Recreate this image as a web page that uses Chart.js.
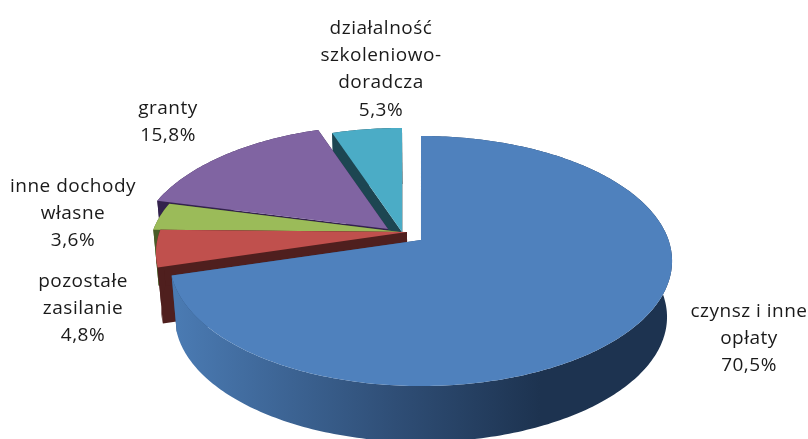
<!DOCTYPE html>
<html><head><meta charset="utf-8">
<style>html,body{margin:0;padding:0;background:#fff}canvas{display:block}</style>
<script src="https://cdn.jsdelivr.net/npm/chart.js@4/dist/chart.umd.min.js"></script>
</head><body><canvas id="c" width="808" height="439"></canvas>
<script>
const categories = ["czynsz i inne opłaty","pozostałe zasilanie","inne dochody własne","granty","działalność szkoleniowo-doradcza"];
const labelLines = [["czynsz i inne","opłaty"],["pozostałe","zasilanie"],["inne dochody","własne"],["granty"],["działalność","szkoleniowo-","doradcza"]];
const shares = [70.5,4.8,3.6,15.8,5.3];
const faceColors = ["#4f81bd","#c0504d","#9bbb59","#8064a2","#4bacc6"];
const wallColors = ["#2f4e76","#4f1f1e","#4a5c27","#33224d","#1d4652"];

const pie3d = {
  id:"pie3d",
  beforeDatasetsDraw(chart,args,o){
    const ctx=chart.ctx, arcs=chart.getDatasetMeta(0).data;
    const point=(i,th,r)=>{
      const u=r*Math.cos(th), v=-r*Math.sin(th), w=1+o.persp*v;
      return [o.tips[i][0]+o.A*u/w, o.tips[i][1]-o.B*v/w];
    };
    const low=p=>[o.baseX+(p[0]-o.baseX)*o.shrink, p[1]+o.depth];
    const poly=(pts,fill)=>{
      ctx.beginPath(); pts.forEach((p,k)=>k?ctx.lineTo(p[0],p[1]):ctx.moveTo(p[0],p[1]));
      ctx.closePath(); ctx.fillStyle=fill; ctx.fill();
    };
    const grad=ctx.createLinearGradient(o.gradFrom,0,o.gradTo,0);
    grad.addColorStop(0,"#4a7ab2"); grad.addColorStop(.6,"#2f4e76"); grad.addColorStop(1,"#1d3350");
    [4,3,2,1,0].forEach(i=>{
      const a=arcs[i], s=a.startAngle, e=a.endAngle, n=Math.max(8,Math.ceil((e-s)*60));
      const rim=[]; for(let k=0;k<=n;k++) rim.push(point(i,s+(e-s)*k/n,1));
      const tip=point(i,s,0), wall=i===0?grad:wallColors[i];
      poly([tip,rim[0],low(rim[0]),low(tip)],wallColors[i]);
      poly([tip,rim[n],low(rim[n]),low(tip)],wallColors[i]);
      poly(rim.concat(rim.map(low).reverse()),wall);
      poly([tip].concat(rim),faceColors[i]);
    });
    return false;
  },
  afterDraw(chart,args,o){
    const ctx=chart.ctx, vals=chart.data.datasets[0].data;
    ctx.font=o.font; ctx.fillStyle="#1a1a1a"; ctx.textAlign="center"; ctx.textBaseline="alphabetic";
    if("letterSpacing" in ctx) ctx.letterSpacing=o.spacing;
    labelLines.forEach((ls,i)=>{
      const lines=ls.concat(vals[i].toFixed(1).replace(".",",")+"%");
      lines.forEach((t,k)=>ctx.fillText(t,o.labelAt[i][0],o.labelAt[i][1]+k*o.lineGap));
    });
  }
};

new Chart(document.getElementById("c"),{
  type:"pie",
  data:{labels:categories,datasets:[{data:shares,backgroundColor:faceColors,borderWidth:0}]},
  options:{
    responsive:false,animation:false,rotation:0,
    layout:{padding:0},
    plugins:{legend:{display:false},tooltip:{enabled:false},
      pie3d:{
        persp:.168,A:247.5,B:121.5,depth:56,shrink:.98,baseX:420,gradFrom:178,gradTo:540,
        tips:[[421,240],[407,232],[400,232],[388,229],[402,232]],
        labelAt:[[749,317],[83,287],[73,192],[168,114],[381,34]],
        lineGap:27.2,font:'19px "Open Sans"',spacing:"0.5px"
      }}
  },
  plugins:[pie3d]
});
</script></body></html>
